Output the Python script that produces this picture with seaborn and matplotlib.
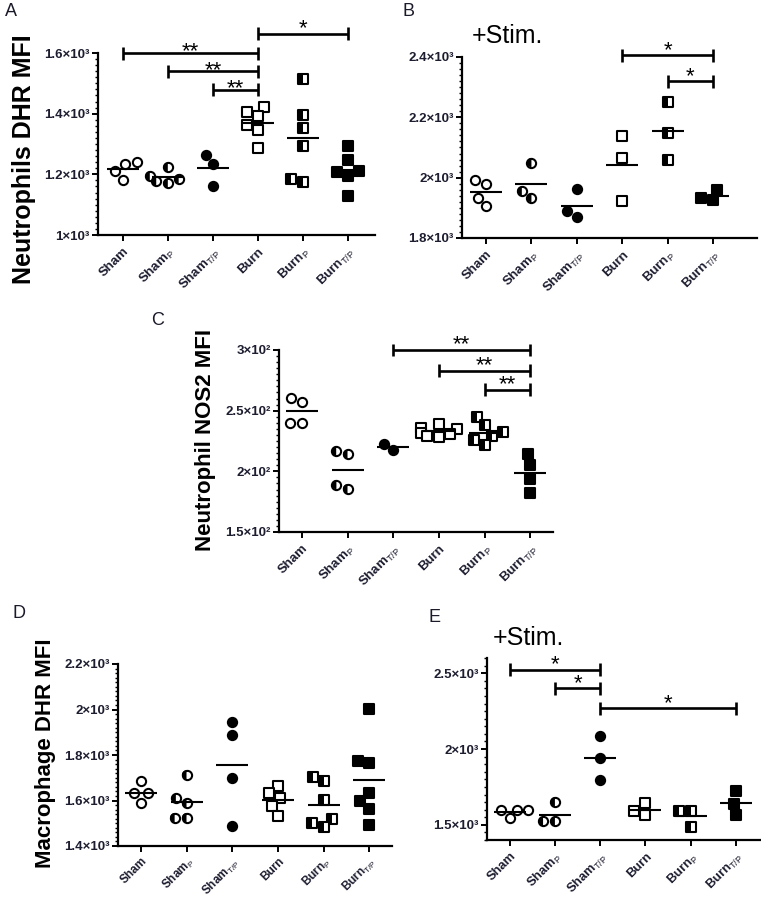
import warnings
warnings.filterwarnings("ignore")
import numpy as np
import pandas as pd
import matplotlib
matplotlib.use("Agg")
import matplotlib.pyplot as plt
import seaborn as sns
from matplotlib.path import Path
from matplotlib.ticker import MultipleLocator

sns.set_style("ticks")
plt.rcParams['font.family'] = ['Liberation Sans', 'DejaVu Sans']
plt.rcParams['mathtext.fontset'] = 'custom'
plt.rcParams['mathtext.rm'] = 'Liberation Sans'
plt.rcParams['mathtext.it'] = 'Liberation Sans:italic'
plt.rcParams['mathtext.bf'] = 'Liberation Sans:bold'

# ---------------- data ----------------
groups = ["Sham", "ShamP", "ShamT/P", "Burn", "BurnP", "BurnT/P"]
group_labels = ["Sham", r"Sham$_{\mathrm{P}}$", r"Sham$_{\mathrm{T/P}}$",
                "Burn", r"Burn$_{\mathrm{P}}$", r"Burn$_{\mathrm{T/P}}$"]

# A: Neutrophils DHR MFI
a_sham = [1240, 1233, 1211, 1182]
a_shamP = [1224, 1195, 1185, 1178, 1170]
a_shamTP = [1264, 1233, 1163]
a_burn = [1422, 1404, 1391, 1363, 1347, 1286]
a_burnP = [1515, 1394, 1352, 1295, 1185, 1176]
a_burnTP = [1294, 1246, 1212, 1209, 1196, 1127]
a_yticks = [1000, 1200, 1400, 1600]
a_yticklabels = ["1×10³", "1.2×10³", "1.4×10³", "1.6×10³"]
a_sig = [(0, 3, 1600, "**"), (1, 3, 1540, "**"), (2, 3, 1479, "**"), (3, 5, 1663, "*")]

# B: +Stim. neutrophil DHR
b_sham = [1991, 1980, 1934, 1906]
b_shamP = [2050, 1956, 1934]
b_shamTP = [1961, 1890, 1870]
b_burn = [2139, 2065, 1922]
b_burnP = [2251, 2149, 2060]
b_burnTP = [1960, 1933, 1925]
b_yticks = [1800, 2000, 2200, 2400]
b_yticklabels = ["1.8×10³", "2×10³", "2.2×10³", "2.4×10³"]
b_sig = [(3, 5, 2406, "*"), (4, 5, 2319, "*")]

# C: Neutrophil NOS2 MFI
c_sham = [260.7, 257.1, 239.8, 239.8]
c_shamP = [216.8, 214.0, 189.0, 185.7]
c_shamTP = [222.8, 217.3]
c_burn = [239, 236, 235, 232, 231, 229, 228]
c_burnP = [244.8, 237.9, 232.4, 228.8, 225.5, 221.4]
c_burnTP = [214.0, 204.9, 194.0, 182.1]
c_yticks = [150, 200, 250, 300]
c_yticklabels = ["1.5×10²", "2×10²", "2.5×10²", "3×10²"]
c_sig = [(2, 5, 300, "**"), (3, 5, 282.7, "**"), (4, 5, 267.3, "**")]

# D: Macrophage DHR MFI
d_sham = [1684, 1632, 1632, 1591]
d_shamP = [1713, 1610, 1588, 1525, 1525]
d_shamTP = [1946, 1890, 1701, 1490]
d_burn = [1662, 1632, 1610, 1574, 1532]
d_burnP = [1703, 1684, 1603, 1518, 1500, 1485]
d_burnTP = [2003, 1775, 1765, 1632, 1596, 1563, 1493]
d_yticks = [1400, 1600, 1800, 2000, 2200]
d_yticklabels = ["1.4×10³", "1.6×10³", "1.8×10³", "2×10³", "2.2×10³"]
d_sig = []

# E: +Stim. macrophage DHR
e_sham = [1601, 1598, 1595, 1542]
e_shamP = [1652, 1524, 1524]
e_shamTP = [2088, 1943, 1795]
e_burn = [1641, 1590, 1564]
e_burnP = [1590, 1590, 1487]
e_burnTP = [1725, 1637, 1564]
e_yticks = [1500, 2000, 2500]
e_yticklabels = ["1.5×10³", "2×10³", "2.5×10³"]
e_sig = [(0, 2, 2522, "*"), (1, 2, 2400, "*"), (2, 5, 2269, "*")]

# ---------------- styling ----------------
W, H = 761, 900
fig = plt.figure(figsize=(W / 100, H / 100), dpi=100)
fig.patch.set_facecolor("white")

def rect(left, top, right, bottom):
    return [left / W, 1 - bottom / H, (right - left) / W, (bottom - top) / H]

theta = np.linspace(np.pi / 2, 3 * np.pi / 2, 40)
half_circle = Path(np.column_stack([np.cos(theta), np.sin(theta)]).tolist() + [[0, 1]], closed=True)
half_square = Path([(-1, -1), (0, -1), (0, 1), (-1, 1), (-1, -1)], closed=True)

marker_spec = {
    "Sham": ("o", "white", None),
    "ShamP": ("o", "white", half_circle),
    "ShamT/P": ("o", "black", None),
    "Burn": ("s", "white", None),
    "BurnP": ("s", "white", half_square),
    "BurnT/P": ("s", "black", None),
}

MS = 44
LW = 1.5
TXT = "#1d1d30"

def draw_panel(ax, series, yticks, yticklabels, ylim, minor, xlim, sig, star_off,
               xfs=9.5, xpad=3):
    frames = []
    for g, vals in zip(groups, series):
        df = pd.DataFrame({"group": g, "value": vals})
        frames.append(df)
        m, face, half = marker_spec[g]
        sns.swarmplot(data=df, x="group", y="value", order=groups, ax=ax,
                      marker=m, color=face, edgecolor="black", linewidth=LW,
                      size=np.sqrt(MS), zorder=3)
        if half is not None:
            sns.swarmplot(data=df, x="group", y="value", order=groups, ax=ax,
                          marker=half, color="black", edgecolor="none", linewidth=LW,
                          size=np.sqrt(MS), zorder=4)
    long = pd.concat(frames, ignore_index=True)
    sns.pointplot(data=long, x="group", y="value", order=groups, ax=ax,
                  estimator="mean", errorbar=None, markers="_", linestyles="none",
                  color="black", markersize=23, markeredgewidth=1.5, zorder=5)
    ax.set_xlim(*xlim)
    ax.set_ylim(*ylim)
    ax.set_xticks(range(len(groups)))
    ax.set_xticklabels(group_labels, rotation=45, ha="right", rotation_mode="anchor",
                       fontsize=xfs, fontweight="bold", color=TXT)
    ax.set_yticks(yticks)
    ax.set_yticklabels(yticklabels, fontsize=9.5, fontweight="bold", color=TXT)
    ax.yaxis.set_minor_locator(MultipleLocator(minor))
    ax.set_xlabel("")
    ax.set_ylabel("")
    for s in ["top", "right"]:
        ax.spines[s].set_visible(False)
    for s in ["left", "bottom"]:
        ax.spines[s].set_linewidth(1.6)
        ax.spines[s].set_color("black")
    ax.tick_params(axis="both", which="major", length=4.5, width=1.4, pad=1.5, color="black")
    ax.tick_params(axis="y", which="minor", length=2.5, width=1.0, color="black")
    ax.tick_params(axis="x", which="major", pad=xpad)
    ax.set_facecolor("white")
    # significance brackets
    yr = ylim[1] - ylim[0]
    px = yr / (ax.get_position().height * H)
    cap = 6.5 * px
    for x1, x2, y, txt in sig:
        ax.plot([x1, x2], [y, y], color="black", lw=1.9, clip_on=False, zorder=6,
                solid_capstyle="butt")
        for xx in (x1, x2):
            ax.plot([xx, xx], [y - cap, y + cap], color="black", lw=1.9, clip_on=False,
                    zorder=6, solid_capstyle="butt")
        off = star_off[0] if txt == "**" else star_off[1]
        ax.text((x1 + x2) / 2, y + off * px, txt, ha="center", va="center",
                fontsize=16, color="black", clip_on=False)

axA = fig.add_axes(rect(98, 53, 375, 235))
draw_panel(axA, [a_sham, a_shamP, a_shamTP, a_burn, a_burnP, a_burnTP],
           a_yticks, a_yticklabels, (1000, 1600), 20, (-0.55, 5.6), a_sig, (1, 5))

axB = fig.add_axes(rect(462, 57, 757, 238))
draw_panel(axB, [b_sham, b_shamP, b_shamTP, b_burn, b_burnP, b_burnTP],
           b_yticks, b_yticklabels, (1800, 2400), 20, (-0.53, 5.97), b_sig, (5, 5))

axC = fig.add_axes(rect(279, 350, 553, 532))
draw_panel(axC, [c_sham, c_shamP, c_shamTP, c_burn, c_burnP, c_burnTP],
           c_yticks, c_yticklabels, (150, 300), 5, (-0.5, 5.5), c_sig, (5, 5))

axD = fig.add_axes(rect(118, 664, 392, 846))
draw_panel(axD, [d_sham, d_shamP, d_shamTP, d_burn, d_burnP, d_burnTP],
           d_yticks, d_yticklabels, (1400, 2200), 20, (-0.5, 5.5), d_sig, (5, 5),
           xfs=8.5, xpad=2)

axE = fig.add_axes(rect(487, 658, 760, 840))
draw_panel(axE, [e_sham, e_shamP, e_shamTP, e_burn, e_burnP, e_burnTP],
           e_yticks, e_yticklabels, (1400, 2600), 50, (-0.5, 5.53), e_sig, (5, 5), xfs=9.3)

def ftext(x, y, s, **kw):
    fig.text(x / W, 1 - y / H, s, **kw)

# y labels
ftext(24, 159, "Neutrophils DHR MFI", rotation=90, ha="center", va="center",
      fontsize=18, fontweight="bold", color="black")
ftext(206, 440, "Neutrophil NOS2 MFI", rotation=90, ha="center", va="center",
      fontsize=16, fontweight="bold", color="black")
ftext(46, 753, "Macrophage DHR MFI", rotation=90, ha="center", va="center",
      fontsize=16, fontweight="bold", color="black")

# titles
ftext(472, 43, "+Stim.", ha="left", va="baseline", fontsize=18, color="black")
ftext(493, 645, "+Stim.", ha="left", va="baseline", fontsize=18, color="black")

# panel letters
for x, y, s in [(11, 12, "A"), (408, 11, "B"), (158, 320, "C"), (19, 614, "D"), (434, 617, "E")]:
    ftext(x, y, s, ha="center", va="center", fontsize=13, color="#1a1a2a")

fig.savefig("out.png", dpi=100, facecolor="white")
